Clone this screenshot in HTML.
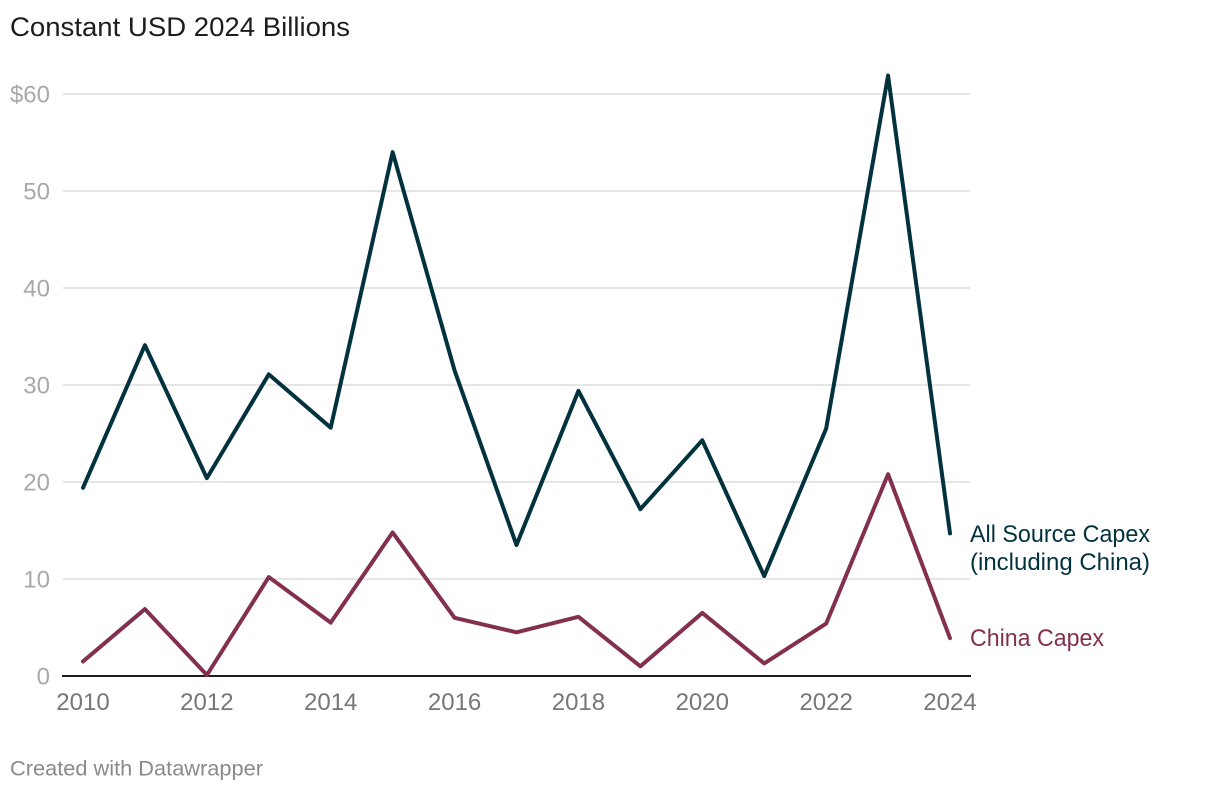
<!DOCTYPE html>
<html>
<head>
<meta charset="utf-8">
<title>Constant USD 2024 Billions</title>
<style>
html,body{margin:0;padding:0;background:#fff;width:1220px;height:792px;overflow:hidden}
svg{display:block;font-family:"Liberation Sans",Arial,sans-serif}
</style>
</head>
<body>
<svg id="chart" width="1220" height="792" viewBox="0 0 1220 792" xmlns="http://www.w3.org/2000/svg">
  <text x="10" y="36" font-size="26.5" fill="#1d1d1d" textLength="340" lengthAdjust="spacingAndGlyphs">Constant USD 2024 Billions</text>
  <g id="grid"></g>
  <g id="yticks"></g>
  <g id="xticks"></g>
  <g id="lines"></g>
  <text x="970" y="542" font-size="24" fill="#03323f" textLength="180" lengthAdjust="spacingAndGlyphs">All Source Capex</text>
  <text x="970" y="570" font-size="24" fill="#03323f" textLength="180" lengthAdjust="spacingAndGlyphs">(including China)</text>
  <text x="970" y="646" font-size="24" fill="#83304f" textLength="134" lengthAdjust="spacingAndGlyphs">China Capex</text>
  <text x="10" y="775.5" font-size="21.5" fill="#8a8a8a" textLength="253" lengthAdjust="spacingAndGlyphs">Created with Datawrapper</text>
</svg>
<script>
var years = [2010,2011,2012,2013,2014,2015,2016,2017,2018,2019,2020,2021,2022,2023,2024];
var allSourceCapex = [19.4,34.1,20.4,31.1,25.6,54.0,31.5,13.5,29.4,17.2,24.3,10.3,25.5,61.9,14.7];
var chinaCapex = [1.5,6.9,0.1,10.2,5.5,14.8,6.0,4.5,6.1,1.0,6.5,1.3,5.4,20.8,3.9];
var yTickValues = [0,10,20,30,40,50,60];
var yTickLabels = ['0','10','20','30','40','50','$60'];
var xTickValues = [2010,2012,2014,2016,2018,2020,2022,2024];

var NS = 'http://www.w3.org/2000/svg';
function xScale(year){ return 83 + (year - 2010) * (950 - 83) / 14; }
function yScale(v){ return 676 - v * (676 - 94) / 60; }
function make(tag, parent, attrs){
  var el = document.createElementNS(NS, tag);
  for (var k in attrs) el.setAttribute(k, attrs[k]);
  parent.appendChild(el);
  return el;
}

var gridG = document.getElementById('grid');
var yG = document.getElementById('yticks');
var xG = document.getElementById('xticks');
var linesG = document.getElementById('lines');

yTickValues.forEach(function(v, i){
  if (v !== 0) {
    var gl = make('line', gridG, {x1:63, x2:970, y1:yScale(v), y2:yScale(v), stroke:'#e6e6e6', 'stroke-width':2});
    
    
  }
  var t = make('text', yG, {x:50, y:yScale(v)+8.5, 'text-anchor':'end', 'font-size':24, fill:'#a9a9a9'});
  t.textContent = yTickLabels[i];
  
  
});

xTickValues.forEach(function(y){
  var t = make('text', xG, {x:xScale(y), y:710, 'text-anchor':'middle', 'font-size':24, fill:'#777777'});
  t.textContent = String(y);
  
  
});

function pathFor(values){
  return values.map(function(v, i){
    return (i ? 'L' : 'M') + xScale(years[i]).toFixed(2) + ' ' + yScale(v).toFixed(2);
  }).join(' ');
}

var baseline = make('line', linesG, {x1:62, x2:971, y1:yScale(0), y2:yScale(0), stroke:'#1d1d1d', 'stroke-width':2});



var chinaLine = make('path', linesG, {d:pathFor(chinaCapex), fill:'none', stroke:'#83304f', 'stroke-width':4, 'stroke-linejoin':'round', 'stroke-linecap':'round'});



var allLine = make('path', linesG, {d:pathFor(allSourceCapex), fill:'none', stroke:'#03323f', 'stroke-width':4, 'stroke-linejoin':'round', 'stroke-linecap':'round'});


</script>
</body>
</html>
